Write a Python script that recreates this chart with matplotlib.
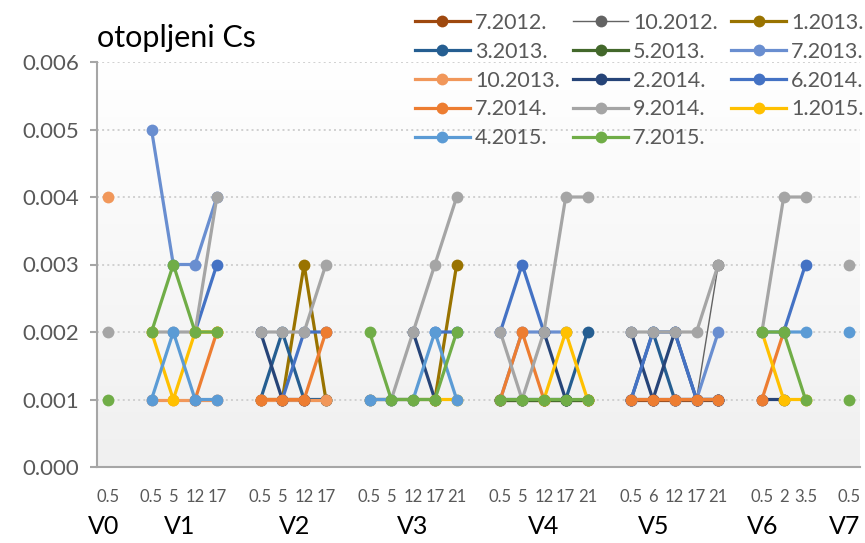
import numpy as np
import matplotlib.pyplot as plt
from matplotlib.colors import LinearSegmentedColormap
from matplotlib.transforms import blended_transform_factory

plt.rcParams['font.family'] = ['Lato', 'DejaVu Sans']

# categories: measuring spots and the hours after melting
groups = ['V0', 'V1', 'V2', 'V3', 'V4', 'V5', 'V6', 'V7']
hours = [['0.5'],
         ['0.5', '5', '12', '17'],
         ['0.5', '5', '12', '17'],
         ['0.5', '5', '12', '17', '21'],
         ['0.5', '5', '12', '17', '21'],
         ['0.5', '6', '12', '17', '21'],
         ['0.5', '2', '3.5'],
         ['0.5']]

# values in 0.001 units, one sub-list per group (V0 .. V7), N = no sample
N = None
labels = ['7.2012.', '10.2012.', '1.2013.', '3.2013.', '5.2013.', '7.2013.', '10.2013.',
          '2.2014.', '6.2014.', '7.2014.', '9.2014.', '1.2015.', '4.2015.', '7.2015.']
v_07_2012 = [[N], [N, N, N, N], [N, N, N, N], [N, N, N, N, N], [1, 1, 1, 1, 1], [1, 1, 1, 1, 1], [N, N, N], [N]]
v_10_2012 = [[N], [N, N, N, N], [N, N, N, N], [N, N, N, N, N], [N, N, N, N, N], [1, 1, 1, 1, 3], [N, N, N], [N]]
v_01_2013 = [[N], [N, N, N, N], [1, 1, 3, 1], [1, 1, 1, 1, 3], [N, N, N, N, N], [N, N, N, N, N], [N, N, N], [N]]
v_03_2013 = [[N], [N, N, N, N], [1, 2, 1, 1], [N, N, N, N, N], [1, 1, 1, 1, 2], [1, 2, 1, 1, 1], [N, N, N], [N]]
v_05_2013 = [[N], [N, N, N, N], [N, N, N, N], [N, N, N, N, N], [1, 1, 1, 1, 1], [N, N, N, N, N], [N, N, N], [N]]
v_07_2013 = [[N], [5, 3, 3, 4], [N, N, N, N], [N, N, N, N, N], [1, 2, 2, 2, N], [1, 1, 1, 1, 2], [N, N, N], [N]]
v_10_2013 = [[4], [1, 1, 1, 1], [1, 1, 1, 1], [N, N, N, N, N], [N, N, N, N, N], [N, N, N, N, N], [N, N, N], [N]]
v_02_2014 = [[N], [N, N, N, N], [2, 1, 1, N], [N, N, 2, 1, N], [N, N, 2, 1, N], [2, 1, 2, 1, 1], [1, 1, N], [N]]
v_06_2014 = [[N], [N, N, 2, 3], [N, 1, 2, 2], [N, N, N, 2, 2], [2, 3, 2, N, N], [1, 2, 2, 1, 1], [N, 2, 3], [N]]
v_07_2014 = [[N], [N, N, 1, 2], [1, 1, 1, 2], [N, N, N, N, N], [1, 2, 1, N, N], [1, 1, 1, 1, 1], [1, 2, N], [N]]
v_09_2014 = [[2], [2, 2, 2, 4], [2, 2, 2, 3], [1, 1, 2, 3, 4], [2, 1, 2, 4, 4], [2, 2, 2, 2, 3], [2, 4, 4], [3]]
v_01_2015 = [[N], [2, 1, 2, 2], [N, N, N, N], [N, N, N, 1, 1], [N, N, 1, 2, 1], [N, N, N, N, N], [2, 1, 1], [N]]
v_04_2015 = [[N], [1, 2, 1, 1], [N, N, N, N], [1, 1, 1, 2, 1], [N, N, N, N, N], [N, N, N, N, N], [2, 2, 2], [2]]
v_07_2015 = [[1], [2, 3, 2, 2], [N, N, N, N], [2, 1, 1, 1, 2], [1, 1, 1, 1, 1], [N, N, N, N, N], [2, 2, 1], [1]]
series = [v_07_2012, v_10_2012, v_01_2013, v_03_2013, v_05_2013, v_07_2013, v_10_2013,
          v_02_2014, v_06_2014, v_07_2014, v_09_2014, v_01_2015, v_04_2015, v_07_2015]

colors = ['#9E480E', '#636363', '#997300', '#255E91', '#43682B', '#698ED0', '#F1975A',
          '#264478', '#4472C4', '#ED7D31', '#A5A5A5', '#FFC000', '#5B9BD5', '#70AD47']

# where the group names sit (category units), as in the original layout
group_label_x = [-0.2, 3.3, 8.55, 14.0, 20.0, 25.05, 30.05, 33.8]


def flatten(groups_vals):
    # one empty category between groups, so lines break there
    out = []
    for i, g in enumerate(groups_vals):
        if i > 0:
            out.append(np.nan)
        out += [np.nan if v is None else v * 0.001 for v in g]
    return np.array(out, dtype=float)


tick_pos, tick_lab = [], []
pos = 0
for i, h in enumerate(hours):
    if i > 0:
        pos += 1
    for lab in h:
        tick_pos.append(pos)
        tick_lab.append(lab)
        pos += 1
n_cat = pos
x = np.arange(n_cat)

fig = plt.figure(figsize=(8.65, 5.43), dpi=100)
ax = fig.add_axes([97 / 865, 1 - 467 / 543, 763 / 865, 405 / 543])

grad = LinearSegmentedColormap.from_list('bg', ['#FFFFFF', '#F0F0F0'])
ax.imshow(np.linspace(0, 1, 256).reshape(-1, 1), cmap=grad, aspect='auto',
          extent=[0, 1, 0, 1], transform=ax.transAxes, zorder=0)

handles = []
for lab, vals, c in zip(labels, series, colors):
    lw = 1.0 if lab == '10.2012.' else 2.3
    ln, = ax.plot(x, flatten(vals), color=c, lw=lw, marker='o', ms=8.5,
                  markeredgewidth=0, label=lab, zorder=3)
    handles.append(ln)

ax.set_xlim(-0.5, n_cat - 0.5)
ax.set_ylim(0, 0.006)
ax.set_yticks(np.arange(0, 0.0061, 0.001))
ax.set_yticklabels(['%.3f' % v for v in np.arange(0, 0.0061, 0.001)])
ax.yaxis.grid(True, ls=':', color='#D0D0D0', lw=1.4)
ax.set_axisbelow(True)

ax.set_xticks(tick_pos)
ax.set_xticklabels(tick_lab)
ax.tick_params(axis='x', length=0, pad=16, labelsize=12, labelcolor='#595959')
ax.tick_params(axis='y', length=5, width=1.5, color='#A6A6A6', pad=8,
               labelsize=16, labelcolor='#595959')
for s in ['top', 'right']:
    ax.spines[s].set_visible(False)
for s in ['left', 'bottom']:
    ax.spines[s].set_color('#A6A6A6')
    ax.spines[s].set_linewidth(1.5)

trans = blended_transform_factory(ax.transData, fig.transFigure)
for g, gx in zip(groups, group_label_x):
    ax.text(gx, 1 - 527 / 543, g, transform=trans, ha='center', va='center',
            fontsize=18, color='black')

fig.text(97 / 865, 1 - 47 / 543, 'otopljeni Cs', fontsize=22, color='black',
         ha='left', va='baseline')

order = [0, 3, 6, 9, 12, 1, 4, 7, 10, 13, 2, 5, 8, 11]
leg = fig.legend([handles[i] for i in order], [labels[i] for i in order],
                 ncol=3, loc='upper left', bbox_to_anchor=(415 / 865, 1 - 13 / 543),
                 frameon=False, fontsize=15.5, labelcolor='#595959',
                 handlelength=2.55, handletextpad=0.23, columnspacing=0.63,
                 labelspacing=0.41, borderpad=0, borderaxespad=0)

fig.savefig('out.png', dpi=100)
